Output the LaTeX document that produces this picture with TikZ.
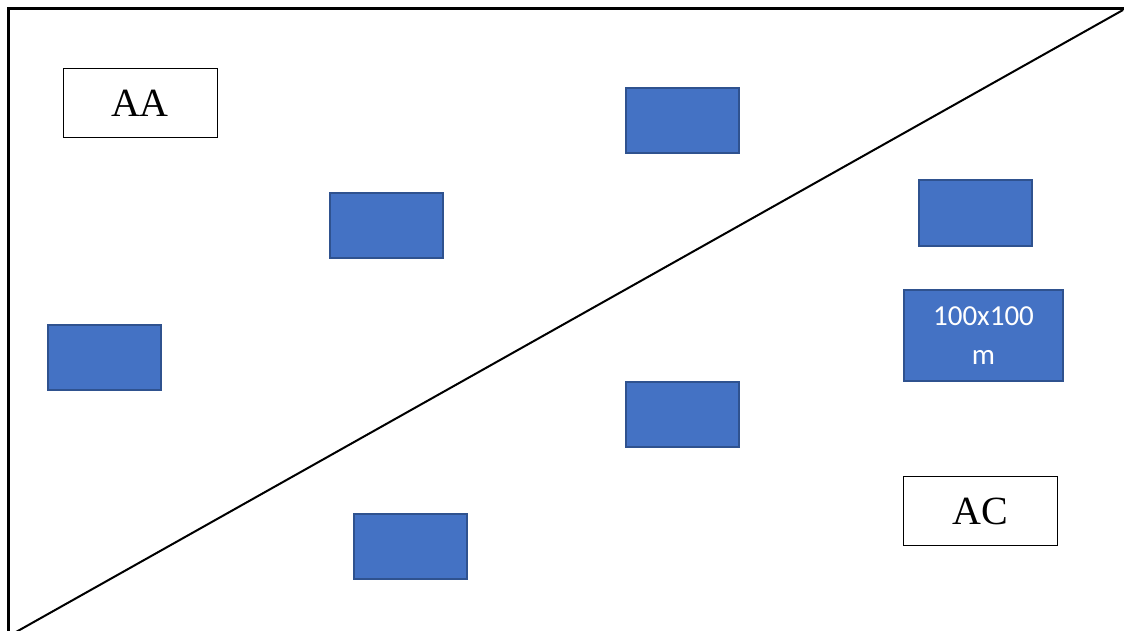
\documentclass[tikz,border=0pt]{standalone}
\usepackage{fontspec}
\setmainfont{Liberation Serif}
\newfontfamily\calib{Carlito}
\definecolor{boxblue}{HTML}{4472C4}
\definecolor{boxedge}{HTML}{2F528F}
\tikzset{
  bluebox/.style={draw=boxedge, fill=boxblue, line width=2pt, minimum width=113pt, minimum height=65pt, inner sep=0pt},
  labelbox/.style={draw=black, fill=white, line width=1pt, minimum width=154pt, minimum height=69pt, inner sep=0pt, font=\fontsize{40}{48}\selectfont},
  frame/.style={line width=3pt, black},
  cut/.style={line width=2pt, black}
}
\begin{document}
\begin{tikzpicture}[x=1pt,y=-1pt]
\useasboundingbox (0,0) rectangle (1124,631);
% frame
\coordinate (fbl) at (8,632);
\coordinate (ftl) at (8,9);
\coordinate (ftr) at (1125,9);
\draw[frame] (fbl) -- (ftl) -- (ftr);
% diagonal
\coordinate (dbl) at (16,632);
\coordinate (dtr) at (1123,10);
\draw[cut] (dbl) -- (dtr);
% blue boxes
\node[bluebox] (b1) at (682.5,120.5) {};
\node[bluebox] (b2) at (386.5,225.5) {};
\node[bluebox] (b3) at (975.5,213) {};
\node[bluebox] (b4) at (104.5,357.5) {};
\node[bluebox, minimum width=159pt, minimum height=91pt, align=center, text=white,
      font=\calib\fontsize{29}{39}\selectfont] (b5) at (983.5,335.5) {100x100\\m};
\node[bluebox] (b6) at (682.5,414.5) {};
\node[bluebox] (b7) at (410.5,546.5) {};
% label boxes
\node[labelbox] (aa) at (140,103) {AA};
\node[labelbox] (ac) at (980.5,511) {AC};
\end{tikzpicture}
\end{document}
